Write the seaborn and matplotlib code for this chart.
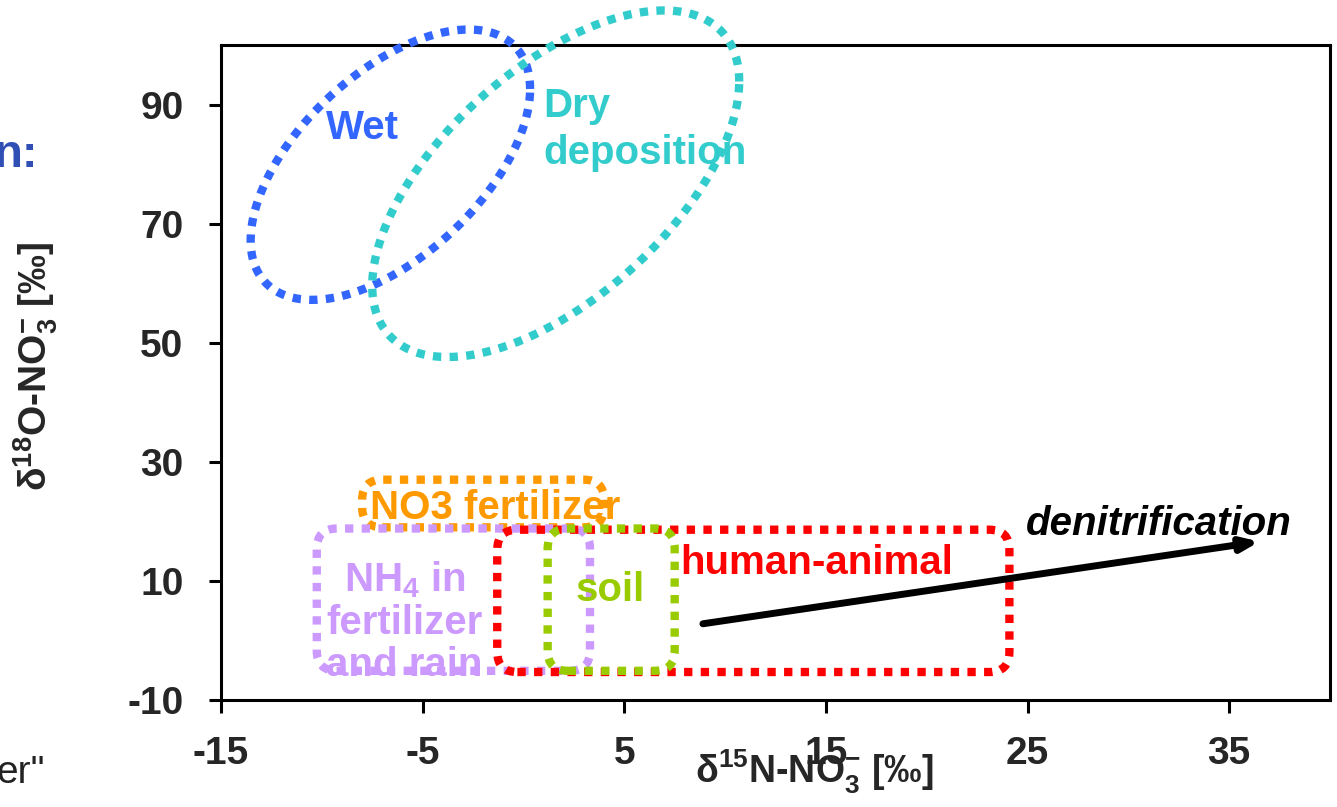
import numpy as np
import matplotlib
matplotlib.use("Agg")
import matplotlib.pyplot as plt
from matplotlib.patches import FancyBboxPatch
import seaborn as sns

# ---- data (isotope ranges, permil) ----
ellipse_names = ["Wet", "Dry deposition"]
ellipse_cx = [-6.6, 1.6]
ellipse_cy = [79.9, 76.7]
ellipse_halfx = [6.93, 9.1]
ellipse_halfy = [22.7, 29.1]
ellipse_rho = [0.56, 0.59]
ellipse_colors = ["#3366FF", "#33CCCC"]

box_names = ["NO3 fertilizer", "NH4 in fertilizer and rain", "human-animal", "soil"]
box_x0 = [-8.0, -10.25, -1.3, 1.2]
box_x1 = [4.0, 3.3, 24.1, 7.5]
box_y0 = [19.0, -5.1, -5.3, -5.1]
box_y1 = [27.0, 18.8, 18.6, 18.8]
box_colors = ["#FF9900", "#CC99FF", "#FF0000", "#99CC00"]

arrow_start = (8.9, 2.8)
arrow_end = (36.5, 16.6)

xticks = [-15, -5, 5, 15, 25, 35]
yticks = [-10, 10, 30, 50, 70, 90]

sns.set_style("white")
plt.rcParams["font.family"] = ["Liberation Sans", "DejaVu Sans"]
plt.rcParams["mathtext.fontset"] = "custom"
plt.rcParams["mathtext.rm"] = "Liberation Sans:bold"
plt.rcParams["mathtext.bf"] = "Liberation Sans:bold"
plt.rcParams["mathtext.default"] = "rm"

fig = plt.figure(figsize=(13.37, 8.07), dpi=100)
ax = fig.add_axes([221/1337, 1-700/807, 1109/1337, 655/807])
ax.set_xlim(-15, 40)
ax.set_ylim(-10, 100)

dot = (0, (1, 1))
t = np.linspace(0, 2*np.pi, 400)
for cx, cy, hx, hy, r, c in zip(ellipse_cx, ellipse_cy, ellipse_halfx, ellipse_halfy, ellipse_rho, ellipse_colors):
    ex = cx + hx*np.cos(t)
    ey = cy + hy*(r*np.cos(t) + np.sqrt(1-r*r)*np.sin(t))
    sns.lineplot(x=ex, y=ey, sort=False, estimator=None, ax=ax, color=c,
                 linewidth=6, linestyle=dot, dash_capstyle="butt", clip_on=False, zorder=3)

aspect = 20.2/5.94
for x0, x1, y0, y1, c in zip(box_x0, box_x1, box_y0, box_y1, box_colors):
    p = FancyBboxPatch((x0, y0), x1-x0, y1-y0,
                       boxstyle="round,pad=0,rounding_size=1.0", mutation_aspect=aspect,
                       fill=False, edgecolor=c, linewidth=6, linestyle=dot,
                       capstyle="butt", zorder=3)
    ax.add_patch(p)

ax.annotate("", xy=arrow_end, xytext=arrow_start,
            arrowprops=dict(arrowstyle="-|>,head_length=1.0,head_width=0.4", color="black",
                            lw=5, shrinkA=0, shrinkB=0), zorder=4)

fs = 29
ax.text(-8.0, 86, "Wet", color=ellipse_colors[0], fontsize=fs, fontweight="bold", ha="center", va="center", zorder=5)
ax.text(1.0, 85.8, "Dry\ndeposition", color=ellipse_colors[1], fontsize=fs, fontweight="bold",
        ha="left", va="center", linespacing=1.28, zorder=5)
ax.text(-7.6, 22.3, "NO3 fertilizer", color=box_colors[0], fontsize=fs, fontweight="bold", ha="left", va="center", zorder=5)
ax.text(-5.9, 3.1, "NH$_4$ in\nfertilizer\nand rain", color=box_colors[1], fontsize=fs, fontweight="bold",
        ha="center", va="center", linespacing=1.14, zorder=5)
ax.text(7.8, 13.0, "human-animal", color=box_colors[2], fontsize=fs, fontweight="bold", ha="left", va="center", zorder=5)
ax.text(4.3, 8.5, "soil", color=box_colors[3], fontsize=fs, fontweight="bold", ha="center", va="center", zorder=5)
ax.text(24.9, 19.5, "denitrification", color="black", fontsize=fs, fontweight="bold", style="italic",
        ha="left", va="center", zorder=5)

ax.set_xticks(xticks)
ax.set_yticks(yticks)
ax.set_xticklabels([str(v) for v in xticks], fontsize=28, fontweight="bold")
ax.set_yticklabels([str(v) for v in yticks], fontsize=28, fontweight="bold")
ax.tick_params(axis="both", which="both", direction="out", length=9, width=2.2, color="black",
               bottom=True, left=True, top=False, right=False)
ax.tick_params(axis="x", pad=17)
ax.tick_params(axis="y", pad=18)
for s in ax.spines.values():
    s.set_color("black")
    s.set_linewidth(2.2)
    s.set_visible(True)

ax.set_xlabel("δ$^{15}$N-NO$_3^{-}$ [‰]", fontsize=27, fontweight="bold")
ax.xaxis.set_label_coords(0.535, -0.11)
ax.xaxis.label.set_va("center")
ax.set_ylabel("δ$^{18}$O-NO$_3^{-}$ [‰]", fontsize=28, fontweight="bold")
ax.yaxis.set_label_coords(-0.167, 0.51)
ax.yaxis.label.set_va("center")

fig.text(-0.005, 1-155/807, "n:", color="#2F4FB5", fontsize=34, fontweight="bold", ha="left", va="center")
fig.text(-0.003, 1-773/807, "er\"", color="#222222", fontsize=28, ha="left", va="center")

fig.savefig("out.png", dpi=100)
